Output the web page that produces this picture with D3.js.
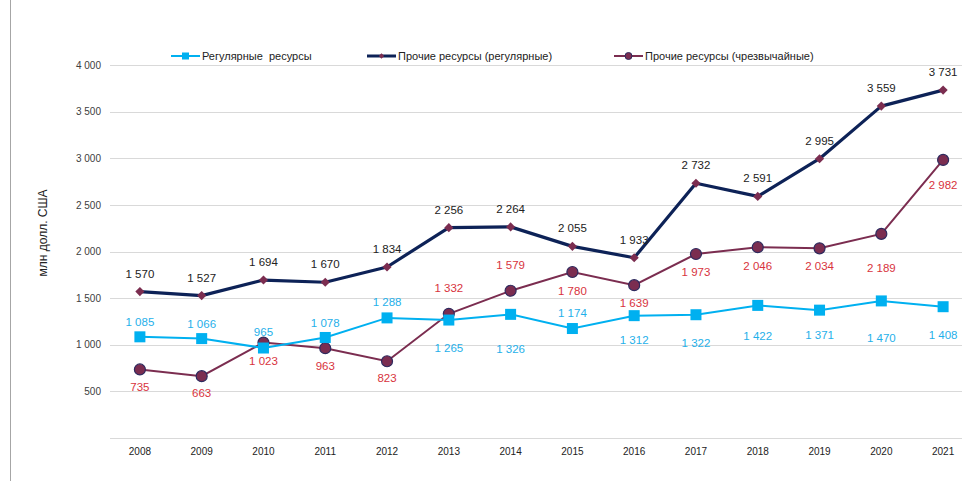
<!DOCTYPE html>
<html>
<head>
<meta charset="utf-8">
<script src="https://cdn.jsdelivr.net/npm/d3@7"></script>
<style>
  body { margin: 0; background: #fff; }
  svg { display: block; font-family: "Liberation Sans", Arial, sans-serif; }
</style>
</head>
<body>
<div id="chart"></div>
<script>
var years = ["2008","2009","2010","2011","2012","2013","2014","2015","2016","2017","2018","2019","2020","2021"];
var regular = [1085,1066,965,1078,1288,1265,1326,1174,1312,1322,1422,1371,1470,1408];
var otherRegular = [1570,1527,1694,1670,1834,2256,2264,2055,1933,2732,2591,2995,3559,3731];
var otherEmergency = [735,663,1023,963,823,1332,1579,1780,1639,1973,2046,2034,2189,2982];
var yTicks = [500,1000,1500,2000,2500,3000,3500,4000];
var seriesNames = ["Регулярные  ресурсы", "Прочие ресурсы (регулярные)", "Прочие ресурсы (чрезвычайные)"];

// label offsets (px, relative to point)
var regularDy = [-15,-15,-16,-15,-16,28,35,-16,24,28,31,25,37,28];
var emergencyDy = [18,17,18,18,17,-26,-26,19,18,18,19,18,34,25];

var width = 978, height = 481;
var svg = d3.select("#chart").append("svg")
  .attr("width", width).attr("height", height);

var x = d3.scaleBand().domain(years).range([109, 974]);
var y = d3.scaleLinear().domain([0, 4000]).range([438, 65]);
var cx = function (d, i) { return x(years[i]) + x.bandwidth() / 2; };

function fmt(v) { return d3.format(",")(v).replace(/,/g, " "); }

// left border
svg.append("line")
  .attr("x1", 10.5).attr("x2", 10.5).attr("y1", 0).attr("y2", height)
  .attr("stroke", "#a6a6a6").attr("stroke-width", 1);

// grid
svg.append("g").selectAll("line")
  .data([0].concat(yTicks))
  .enter().append("line")
  .attr("x1", 110).attr("x2", 962)
  .attr("y1", function (d) { return Math.round(y(d)) + 0.5; })
  .attr("y2", function (d) { return Math.round(y(d)) + 0.5; })
  .attr("stroke", "#d9d9d9").attr("stroke-width", 1);

// y axis
var yAxis = svg.append("g")
  .attr("transform", "translate(110,0)")
  .call(d3.axisLeft(y).tickValues(yTicks).tickSize(0).tickPadding(9).tickFormat(fmt));
yAxis.select(".domain").remove();
yAxis.selectAll("text").attr("fill", "#404040").style("font-size", "10px");

svg.append("text")
  .attr("transform", "translate(47,233) rotate(-90)")
  .attr("text-anchor", "middle")
  .attr("fill", "#222")
  .style("font-size", "12px")
  .text("млн долл. США");

// x axis
var xAxis = svg.append("g")
  .attr("transform", "translate(0,438)")
  .call(d3.axisBottom(x).tickSize(0).tickPadding(10));
xAxis.select(".domain").remove();
xAxis.selectAll("text").attr("fill", "#222").style("font-size", "10px");

var line = d3.line().x(cx).y(function (d) { return y(d); });

// emergency series
svg.append("path").datum(otherEmergency)
  .attr("fill", "none").attr("stroke", "#7b2d50").attr("stroke-width", 2)
  .attr("d", line);
svg.append("g").selectAll("circle").data(otherEmergency).enter().append("circle")
  .attr("cx", cx).attr("cy", function (d) { return y(d); })
  .attr("r", 5.5).attr("fill", "#7b2d50").attr("stroke", "#2e2a5e").attr("stroke-width", 1.2);

// regular series
svg.append("path").datum(regular)
  .attr("fill", "none").attr("stroke", "#00b0f0").attr("stroke-width", 2)
  .attr("d", line);
svg.append("g").selectAll("rect").data(regular).enter().append("rect")
  .attr("x", function (d, i) { return cx(d, i) - 5.5; })
  .attr("y", function (d) { return y(d) - 5.5; })
  .attr("width", 11).attr("height", 11).attr("fill", "#00b0f0");

// other regular series
svg.append("path").datum(otherRegular)
  .attr("fill", "none").attr("stroke", "#0d2257").attr("stroke-width", 3.2)
  .attr("stroke-linejoin", "round")
  .attr("d", line);
svg.append("g").selectAll("path").data(otherRegular).enter().append("path")
  .attr("transform", function (d, i) { return "translate(" + cx(d, i) + "," + y(d) + ") rotate(45)"; })
  .attr("d", d3.symbol().type(d3.symbolSquare).size(42))
  .attr("fill", "#7b2d50");

// labels
function labels(data, dys, color) {
  svg.append("g").selectAll("text").data(data).enter().append("text")
    .attr("x", cx)
    .attr("y", function (d, i) { return y(d) + dys[i]; })
    .attr("dy", "0.35em")
    .attr("text-anchor", "middle")
    .attr("fill", color)
    .style("font-size", "11.5px")
    .text(fmt);
}
labels(otherRegular, otherRegular.map(function () { return -18; }), "#222");
labels(regular, regularDy, "#1fb0ea");
labels(otherEmergency, emergencyDy, "#d8333d");

// legend
var legend = svg.append("g");
var items = [
  {x: 171, name: seriesNames[0], color: "#00b0f0", w: 2, mark: "rect"},
  {x: 367, name: seriesNames[1], color: "#0d2257", w: 3, mark: "diamond"},
  {x: 614, name: seriesNames[2], color: "#7b2d50", w: 2, mark: "circle"}
];
items.forEach(function (it) {
  var g = legend.append("g").attr("transform", "translate(" + it.x + ",56)");
  g.append("line").attr("x1", 0).attr("x2", 29).attr("stroke", it.color).attr("stroke-width", it.w);
  if (it.mark === "rect") {
    g.append("rect").attr("x", 11).attr("y", -3.5).attr("width", 7).attr("height", 7).attr("fill", it.color);
  } else if (it.mark === "diamond") {
    g.append("path").attr("transform", "translate(14.5,0) rotate(45)")
      .attr("d", d3.symbol().type(d3.symbolSquare).size(14)).attr("fill", "#7b2d50");
  } else {
    g.append("circle").attr("cx", 14.5).attr("r", 3.5).attr("fill", "#7b2d50").attr("stroke", "#2e2a5e");
  }
  g.append("text").attr("x", 31).attr("dy", "0.35em")
    .attr("fill", "#222").style("font-size", "11px")
    .style("white-space", "pre")
    .text(it.name);
});
</script>
</body>
</html>
